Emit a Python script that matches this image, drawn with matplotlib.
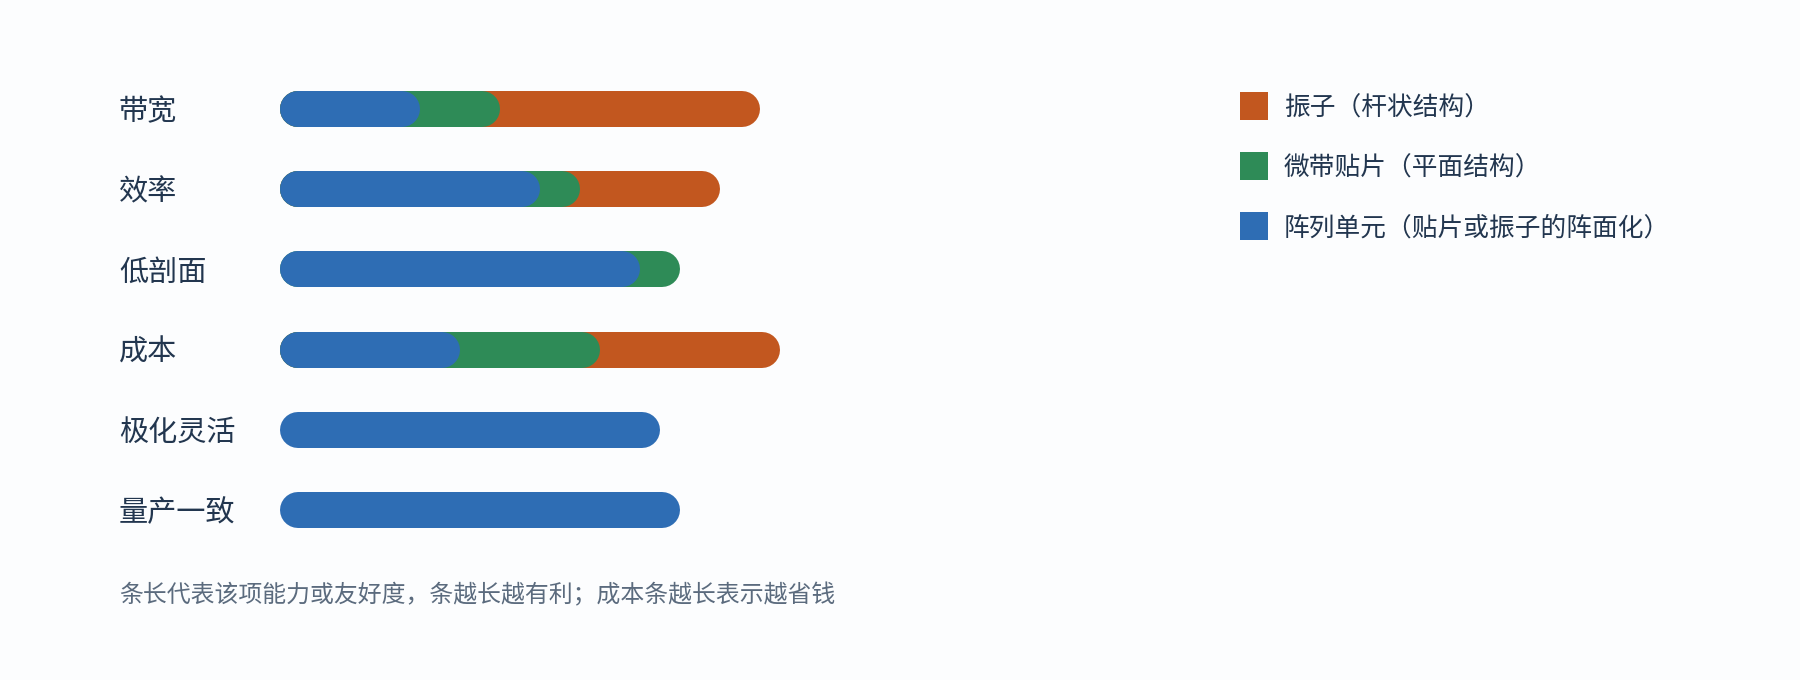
import matplotlib
matplotlib.use("Agg")
import matplotlib.pyplot as plt
from matplotlib.patches import Rectangle

plt.rcParams['font.family'] = ['Noto Sans CJK SC', 'DejaVu Sans']

categories = ["带宽", "效率", "低剖面", "成本", "极化灵活", "量产一致"]
series_names = ["阵列单元（贴片或振子的阵面化）", "微带贴片（平面结构）", "振子（杆状结构）"]
array_vals = [3.5, 6.5, 9.0, 4.5, 9.5, 10.0]
patch_vals = [2.0, 1.0, 1.0, 3.5, 0.0, 0.0]
dipole_vals = [6.5, 3.5, 0.0, 4.5, 0.0, 0.0]
colors = ["#2e6db4", "#2e8b57", "#c2571f"]
legend_order = [2, 1, 0]
note = "条长代表该项能力或友好度，条越长越有利；成本条越长表示越省钱"

W, H = 1800, 680
BG = "#fcfdfe"
TXT = "#22364f"
fig = plt.figure(figsize=(W / 100, H / 100), dpi=100, facecolor=BG)

ax_left, ax_right = 280, 1000
ax_top, ax_bottom = 69, 550
ax = fig.add_axes([ax_left / W, 1 - ax_bottom / H, (ax_right - ax_left) / W, (ax_bottom - ax_top) / H])
ax.set_facecolor(BG)
xmax = (ax_right - ax_left) / 40.0
ax.set_xlim(0, xmax)
ax.set_ylim(len(categories) - 0.5, -0.5)
ax.axis("off")

bar_h_px = 36
px_per_x = (ax_right - ax_left) / xmax
px_per_y = (ax_bottom - ax_top) / len(categories)
r = (bar_h_px / 2) / px_per_x
lw_pt = bar_h_px * 72 / 100

series = [array_vals, patch_vals, dipole_vals]
for i, cat in enumerate(categories):
    cum = []
    s = 0
    for vals in series:
        s += vals[i]
        cum.append(s)
    for k in range(len(series) - 1, -1, -1):
        if series[k][i] <= 0:
            continue
        width = cum[k]
        ax.plot([r, width - r], [i, i], color=colors[k], lw=lw_pt,
                solid_capstyle="round", zorder=3 + (len(series) - k))
    y_px = ax_top + (i + 0.5) * px_per_y + 3
    fig.text(119 / W, 1 - y_px / H, cat, fontsize=21, color=TXT, ha="left", va="center")

for j, k in enumerate(legend_order):
    yc = 106 + j * 60
    fig.patches.append(Rectangle((1240 / W, 1 - (yc + 14) / H), 28 / W, 28 / H,
                                 transform=fig.transFigure, facecolor=colors[k], edgecolor="none"))
    fig.text(1284 / W, 1 - (yc + 3) / H, series_names[k], fontsize=18.5, color=TXT, ha="left", va="center")

fig.text(119 / W, 1 - 595 / H, note, fontsize=17.2, color="#5b6b7e", ha="left", va="center")

fig.savefig("out.png", dpi=100, facecolor=BG)
